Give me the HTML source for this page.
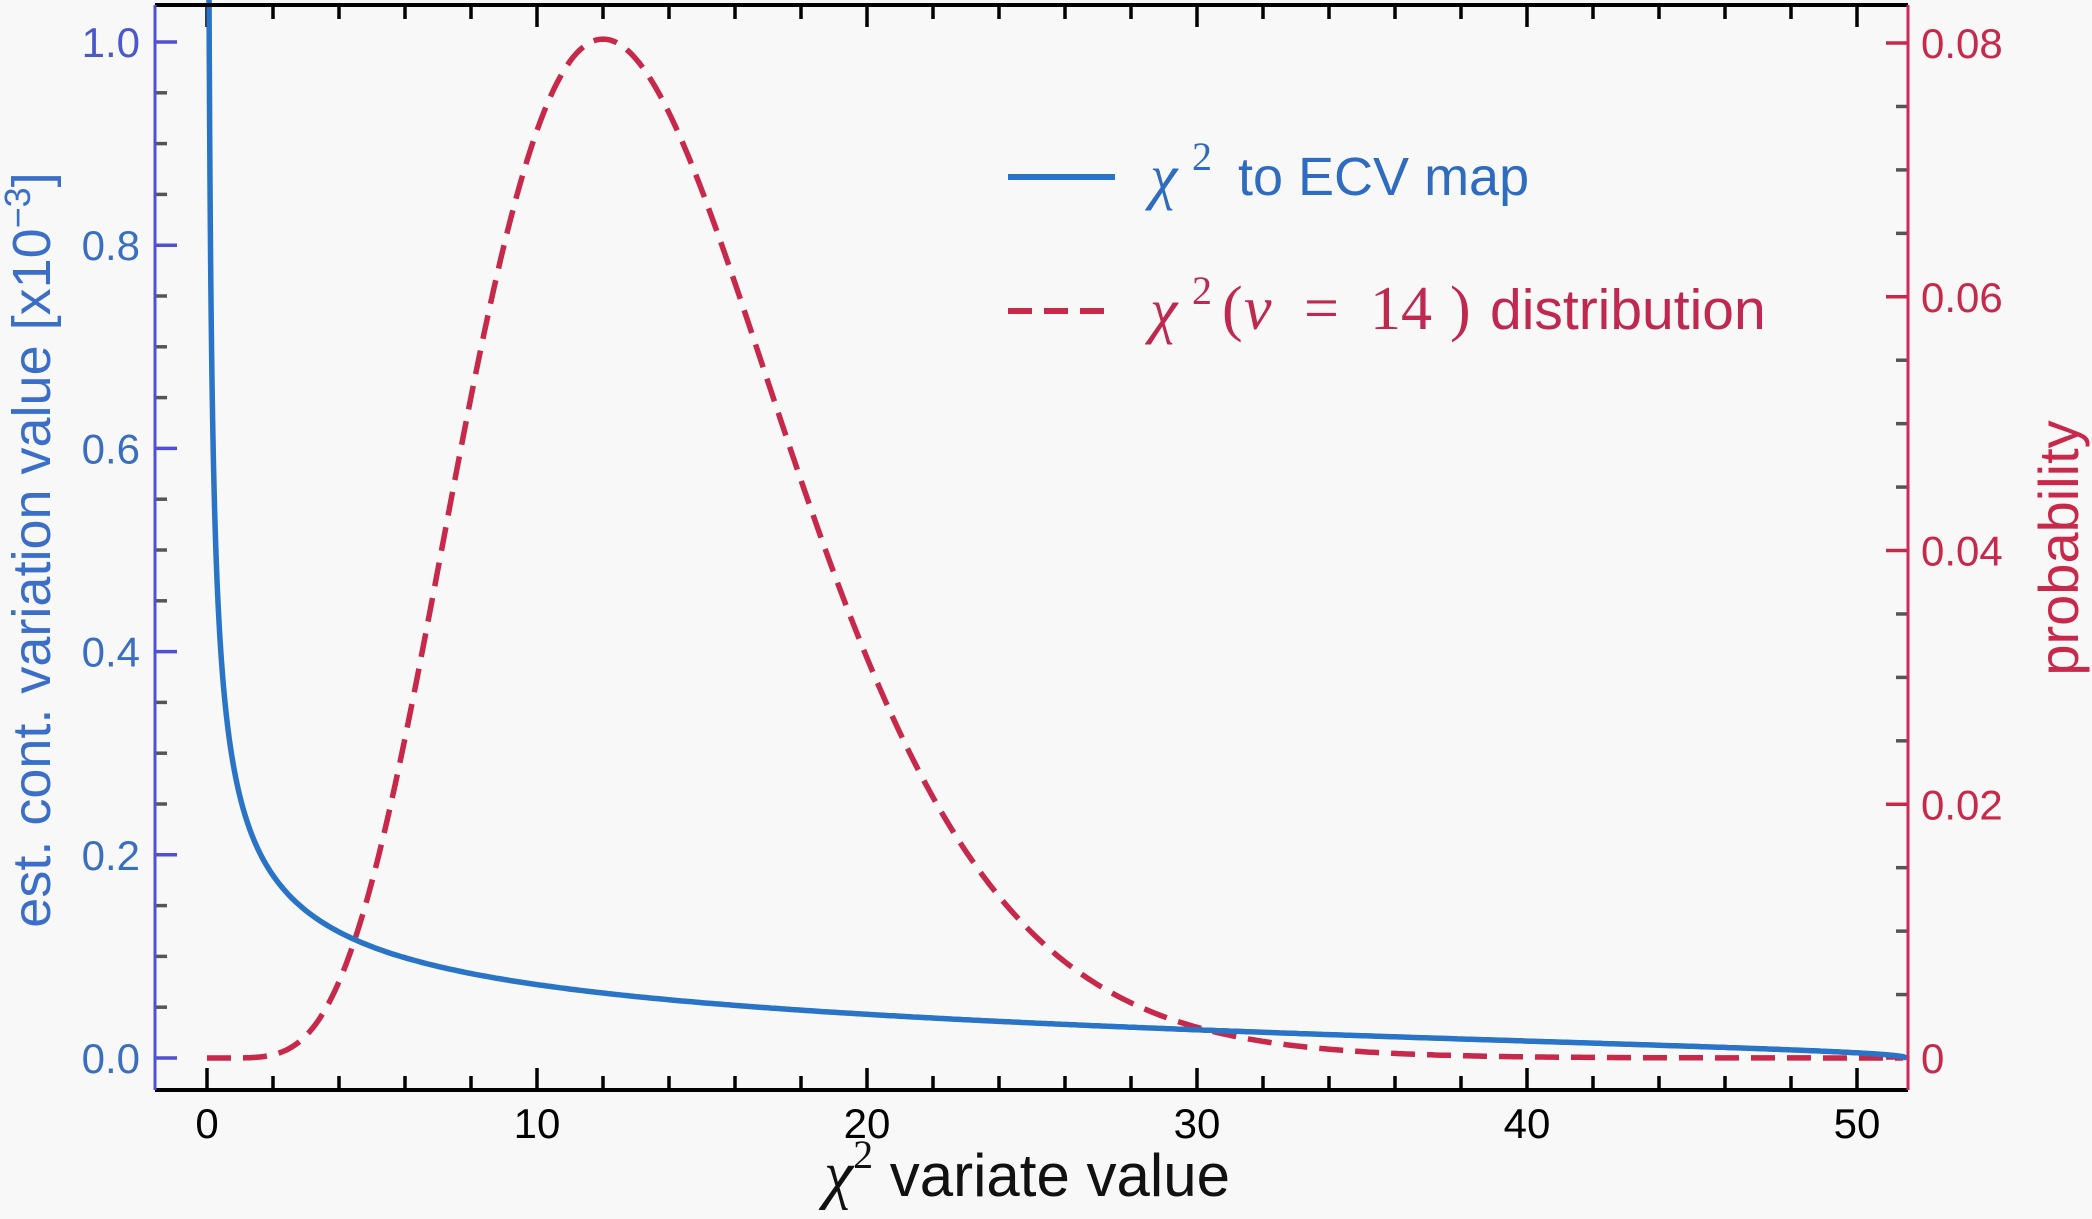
<!DOCTYPE html>
<html><head><meta charset="utf-8"><style>
html,body{margin:0;padding:0;background:#f8f8f8;}
svg{display:block;}
text{font-family:"Liberation Sans",sans-serif;}
.m{font-family:"Liberation Serif","DejaVu Serif",serif;font-style:italic;}
.r{font-family:"Liberation Serif","DejaVu Serif",serif;}
</style></head><body>
<svg id="s" width="2092" height="1219" viewBox="0 0 2092 1219" xmlns="http://www.w3.org/2000/svg">
<rect width="2092" height="1219" fill="#f8f8f8"/>
<g id="ticks"></g>
<path id="pdf" fill="none" stroke="#c8284a" stroke-width="5.5" stroke-dasharray="24,12"/>
<path id="ecv" fill="none" stroke="#2a74c8" stroke-width="5.5"/>
<line x1="155" y1="5" x2="1908" y2="5" stroke="#000" stroke-width="4"/>
<line x1="155" y1="1090" x2="1908" y2="1090" stroke="#000" stroke-width="4"/>
<line x1="155" y1="5" x2="155" y2="1090" stroke="#5050d6" stroke-width="3"/>
<line x1="1908" y1="5" x2="1908" y2="1090" stroke="#d02858" stroke-width="3"/>
<g id="labels"></g>
<line x1="1008" y1="177" x2="1115" y2="177" stroke="#2a74c8" stroke-width="6"/>
<g fill="#2f6cc0">
<text x="1150" y="197" class="m" font-size="62">χ</text>
<text x="1192" y="170" class="r" font-size="40">2</text>
<text x="1238" y="195" font-size="54">to ECV map</text>
</g>
<line x1="1008" y1="311" x2="1115" y2="311" stroke="#c8284a" stroke-width="6" stroke-dasharray="24,12"/>
<g fill="#c02850">
<text x="1150" y="331" class="m" font-size="62">χ</text>
<text x="1192" y="304" class="r" font-size="40">2</text>
<text x="1222" y="329" class="r" font-size="62">(</text>
<text x="1244" y="329" class="m" font-size="62">ν</text>
<text x="1304" y="329" class="r" font-size="62">=</text>
<text x="1370" y="329" class="r" font-size="62">14</text>
<text x="1450" y="329" class="r" font-size="62">)</text>
<text x="1490" y="329" font-size="57">distribution</text>
</g>
<text x="1027" y="1196" font-size="60" text-anchor="middle" fill="#111"><tspan class="m" font-size="66">χ</tspan><tspan font-size="40" dy="-28" font-family="Liberation Serif">2</tspan><tspan dy="28"> variate value</tspan></text>
<text transform="translate(50,550) rotate(-90)" font-size="54" text-anchor="middle" fill="#3a6ec8">est. cont. variation value [x10<tspan font-size="36" dy="-20">−3</tspan><tspan dy="20">]</tspan></text>
<text transform="translate(2078,548) rotate(-90)" font-size="56" text-anchor="middle" fill="#c8284a">probability</text>
</svg>
<script>
var X=function(x){return 207+33*x;};
var YL=function(v){return 1058-1016*v;};
var YR=function(p){return 1058-12687*p;};
var t='',l='';
for(var i=0;i<=25;i++){var x=X(2*i);var maj=(i%5==0);var h=maj?22:14;
 t+='<line x1="'+x+'" y1="1090" x2="'+x+'" y2="'+(1090-h)+'" stroke="#000" stroke-width="3.5"/>';
 t+='<line x1="'+x+'" y1="5" x2="'+x+'" y2="'+(5+h)+'" stroke="#000" stroke-width="3.5"/>';
 if(maj) l+='<text x="'+x+'" y="1138" font-size="42" text-anchor="middle" fill="#000">'+(2*i)+'</text>';}
for(var i=0;i<=20;i++){var y=YL(i*0.05);var maj=(i%4==0);var h=maj?22:12;
 t+='<line x1="155" y1="'+y+'" x2="'+(155+h)+'" y2="'+y+'" stroke="'+(maj?'#5050d6':'#555')+'" stroke-width="3.5"/>';
 if(maj) l+='<text x="140" y="'+(y+15)+'" font-size="42" text-anchor="end" fill="'+(i==20?'#4a58d0':'#3a6ec0')+'">'+(i*0.05).toFixed(1)+'</text>';}
for(var i=0;i<=16;i++){var y=YR(i*0.005);var maj=(i%4==0);var h=maj?22:12;
 t+='<line x1="1908" y1="'+y+'" x2="'+(1908-h)+'" y2="'+y+'" stroke="'+(maj?'#c8284a':'#555')+'" stroke-width="3.5"/>';
 if(maj) l+='<text x="1921" y="'+(y+15)+'" font-size="42" fill="#c8284a">'+(i==0?'0':(i*0.005).toFixed(2))+'</text>';}
document.getElementById('ticks').innerHTML=t;
document.getElementById('labels').innerHTML=l;
var d='';
for(var x=0;x<=51.5;x+=0.1){var p=Math.pow(x,6)*Math.exp(-x/2)/(128*720);d+=(d?'L':'M')+X(x).toFixed(1)+','+YR(p).toFixed(1);}
document.getElementById('pdf').setAttribute('d',d);
function f(x){var r=1-Math.pow(x/51.5,2);if(r<0)r=0;return 0.26*Math.pow(x,-0.5)*Math.exp(-0.011*x)*Math.sqrt(r);}
var e='M'+X(0.06).toFixed(1)+',5';
var x=0.06;while(x<51.5){var v=Math.min(f(x),1.08);e+='L'+X(x).toFixed(2)+','+YL(v).toFixed(1);x+=(x<2?0.01:0.1);}
e+='L'+X(51.5)+','+YL(0);
document.getElementById('ecv').setAttribute('d',e);
</script>
</body></html>
